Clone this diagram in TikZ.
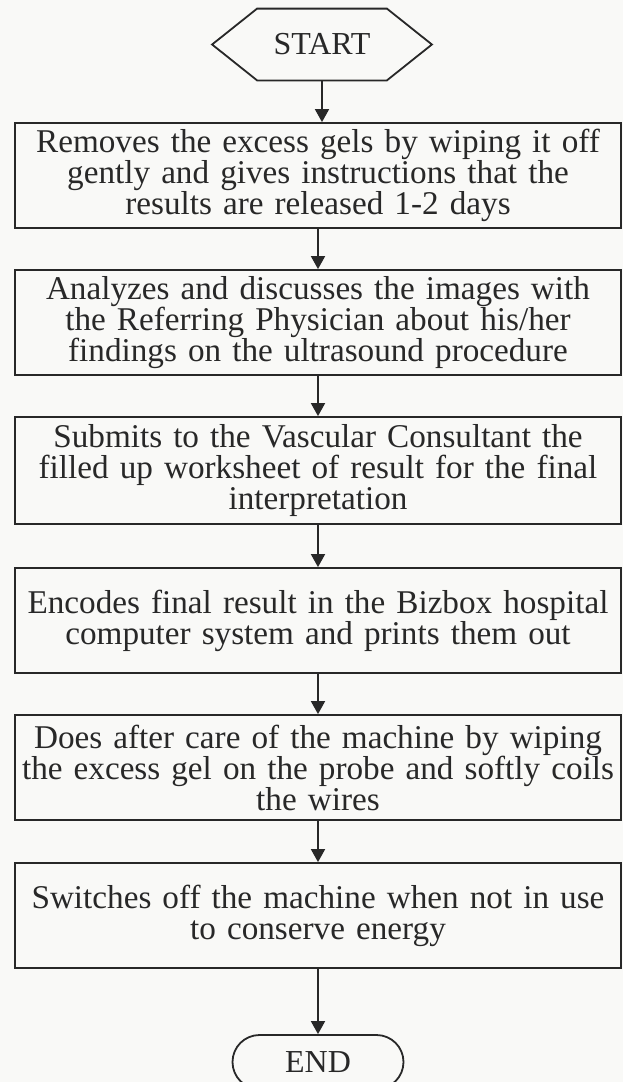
\documentclass[tikz,border=0pt]{standalone}
\usepackage{fontspec}
\setmainfont{Liberation Serif}
\usetikzlibrary{arrows.meta}
\definecolor{ink}{RGB}{40,40,40}
\definecolor{paper}{RGB}{249,249,247}
\tikzset{
  stepbox/.style={draw=ink, line width=0.9pt, rectangle, minimum width=303pt, minimum height=52.5pt,
    inner sep=0pt, text width=300pt, align=center, text=ink,
    font=\fontsize{16.6}{15.5}\selectfont},
  term/.style={inner sep=0pt, text=ink, font=\fontsize{16}{15.5}\selectfont},
  flow/.style={draw=ink, line width=0.9pt, -{Triangle[length=6.5pt,width=7pt]}},
}
\begin{document}
\begin{tikzpicture}[x=0.5pt,y=-0.5pt]
\fill[paper] (0,0) rectangle (623,1082);
\useasboundingbox (0,0) rectangle (623,1082);
\node[term, minimum width=109.5pt, minimum height=35.5pt] (start) at (322,44.5) {START};
\draw[draw=ink, line width=0.9pt] (start.west) -- ([xshift=22.5pt]start.north west) -- ([xshift=-22.5pt]start.north east) -- (start.east) -- ([xshift=-22.5pt]start.south east) -- ([xshift=22.5pt]start.south west) -- cycle;
\node[stepbox] (b1) at (318,175.5) {Removes the excess gels by wiping it off\\ gently and gives instructions that the\\ results are released 1-2 days};
\node[stepbox] (b2) at (318,322.5) {Analyzes and discusses the images with\\ the Referring Physician about his/her\\ findings on the ultrasound procedure};
\node[stepbox, minimum height=53.5pt] (b3) at (318,470.5) {Submits to the Vascular Consultant the\\ filled up worksheet of result for the final\\ interpretation};
\node[stepbox] (b4) at (318,620.5) {Encodes final result in the Bizbox hospital\\ computer system and prints them out};
\node[stepbox] (b5) at (318,767.5) {Does after care of the machine by wiping\\ the excess gel on the probe and softly coils\\ the wires};
\node[stepbox] (b6) at (318,915.5) {Switches off the machine when not in use\\ to conserve energy};
\node[term, draw=ink, line width=0.9pt, rounded corners=13.5pt, minimum width=85.5pt, minimum height=27pt] (end) at (318,1062) {END};
\draw[flow] (start.south) -- (start.south |- b1.north);
\draw[flow] (b1) -- (b2);
\draw[flow] (b2) -- (b3);
\draw[flow] (b3) -- (b4);
\draw[flow] (b4) -- (b5);
\draw[flow] (b5) -- (b6);
\draw[flow] (b6) -- (end);
\end{tikzpicture}
\end{document}
